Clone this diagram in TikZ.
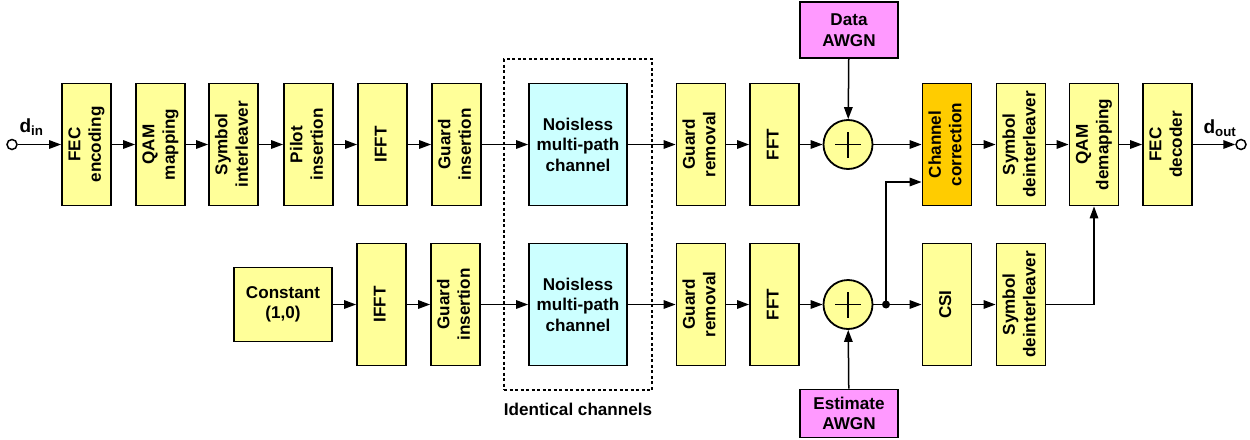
\documentclass[tikz,border=0pt]{standalone}
\usepackage{fontspec}
\setmainfont{Liberation Sans}
\usepackage{graphicx}
\usetikzlibrary{arrows.meta,calc}
\definecolor{boxyellow}{HTML}{FFFF99}
\definecolor{boxorange}{HTML}{FFCC00}
\definecolor{boxcyan}{HTML}{CCFFFF}
\definecolor{boxpink}{HTML}{FF99FF}
\newcommand{\vtxt}[1]{\rotatebox{90}{\begin{tabular}{@{}c@{}}#1\end{tabular}}}
\tikzset{
  every node/.style={font=\fontsize{17.1}{20.5}\selectfont\bfseries},
  blk/.style={draw, line width=1.8pt, fill=boxyellow, minimum width=49pt,
              minimum height=122pt, inner sep=0pt, align=center},
  chan/.style={blk, fill=boxcyan, minimum width=98pt},
  noise/.style={blk, fill=boxpink, minimum width=98pt, minimum height=56pt},
  adder/.style={draw, circle, line width=1.8pt, fill=boxyellow, minimum size=49pt, inner sep=0pt},
  port/.style={draw, circle, line width=1.5pt, fill=white, minimum size=10pt, inner sep=0pt},
  portlabel/.style={font=\fontsize{19}{22}\selectfont\bfseries, inner sep=0pt},
  conn/.style={line width=1.5pt, -{Triangle[length=12pt,width=8.5pt]}},
  wire/.style={line width=1.5pt},
}
\begin{document}
\begin{tikzpicture}[x=1pt,y=-1pt]
\useasboundingbox (0,0) rectangle (1250,439);

% ---------- data path (top row) ----------
\node[port] (din) at (12,144.5) {};
\node[blk] (fec)  at (86.5,144.5)  {\vtxt{FEC\\encoding}};
\node[blk] (qam)  at (160.5,144.5) {\vtxt{QAM\\mapping}};
\node[blk] (sil)  at (233.5,144.5) {\vtxt{Symbol\\interleaver}};
\node[blk] (pil)  at (308.5,144.5) {\vtxt{Pilot\\insertion}};
\node[blk] (ifa)  at (382.5,144.5) {\vtxt{IFFT}};
\node[blk] (gia)  at (456.5,144.5) {\vtxt{Guard\\insertion}};
\node[chan] (cha) at (578,144.5)   {Noisless\\multi-path\\channel};
\node[blk] (gra)  at (701,144.5)   {\vtxt{Guard\\removal}};
\node[blk] (ffa)  at (774.5,144.5) {\vtxt{FFT}};
\node[adder] (ada) at (848,144.5) {};
\node[blk, fill=boxorange] (cc) at (947,144.5) {\vtxt{Channel\\correction}};
\node[blk] (sda)  at (1021,144.5)  {\vtxt{Symbol\\deinterleaver}};
\node[blk] (qdm)  at (1094,144.5)  {\vtxt{QAM\\demapping}};
\node[blk] (fecd) at (1167.5,144.5) {\vtxt{FEC\\decoder}};
\node[port] (dout) at (1241,144.5) {};
\node[portlabel] (dinl)  at (31.5,127)   {d\textsubscript{in}};
\node[portlabel] (doutl) at (1220,128) {d\textsubscript{out}};
\node[noise] (dawgn) at (849,30) {Data\\AWGN};

% ---------- pilot path (bottom row) ----------
\node[blk, minimum width=98pt, minimum height=74pt] (cst) at (283,304.5) {Constant\\(1,0)};
\node[blk] (ifb)  at (381.5,304.5) {\vtxt{IFFT}};
\node[blk] (gib)  at (455.5,304.5) {\vtxt{Guard\\insertion}};
\node[chan] (chb) at (578,304.5)   {Noisless\\multi-path\\channel};
\node[blk] (grb)  at (701,304.5)   {\vtxt{Guard\\removal}};
\node[blk] (ffb)  at (774.5,304.5) {\vtxt{FFT}};
\node[adder] (adb) at (848,304.5) {};
\node[circle, fill, minimum size=8pt, inner sep=0pt] (dot) at (886,304.5) {};
\node[blk] (csi)  at (947,304.5)   {\vtxt{CSI}};
\node[blk] (sdb)  at (1021,304.5)  {\vtxt{Symbol\\deinterleaver}};
\node[noise, minimum height=48pt] (eawgn) at (849,413.5) {Estimate\\AWGN};

% plus signs in the adders
\foreach \a in {ada,adb}{
  \draw[line width=1.5pt] ([xshift=-13pt]\a.center) -- ([xshift=13pt]\a.center);
  \draw[line width=1.5pt] ([yshift=-13pt]\a.center) -- ([yshift=13pt]\a.center);
}

% identical channels frame
\node[draw, line width=1.5pt, dash pattern=on 3pt off 2.5pt, minimum width=148pt,
      minimum height=331pt, inner sep=0pt] (frame) at (578,224.5) {};
\node (framel) at (578,409) {Identical channels};

% ---------- connectors ----------
\draw[conn] (din) -- (fec);
\draw[conn] (fec) -- (qam);
\draw[conn] (qam) -- (sil);
\draw[conn] (sil) -- (pil);
\draw[conn] (pil) -- (ifa);
\draw[conn] (ifa) -- (gia);
\draw[conn] (gia) -- (cha);
\draw[conn] (cha) -- (gra);
\draw[conn] (gra) -- (ffa);
\draw[conn] (ffa) -- (ada);
\draw[conn] (ada) -- (cc);
\draw[conn] (cc) -- (sda);
\draw[conn] (sda) -- (qdm);
\draw[conn] (qdm) -- (fecd);
\draw[conn] (fecd) -- (dout);
\draw[conn] (dawgn) -- (ada);

\draw[conn] (cst) -- (ifb);
\draw[conn] (ifb) -- (gib);
\draw[conn] (gib) -- (chb);
\draw[conn] (chb) -- (grb);
\draw[conn] (grb) -- (ffb);
\draw[conn] (ffb) -- (adb);
\draw[wire] (adb) -- (dot);
\draw[conn] (dot) -- (csi);
\draw[conn] (csi) -- (sdb);
\draw[conn] (eawgn) -- (adb);
\draw[conn] (dot.center) |- ([yshift=-37.5pt]cc.west);
\draw[conn] (sdb.east) -| (qdm.south);
\end{tikzpicture}
\end{document}
